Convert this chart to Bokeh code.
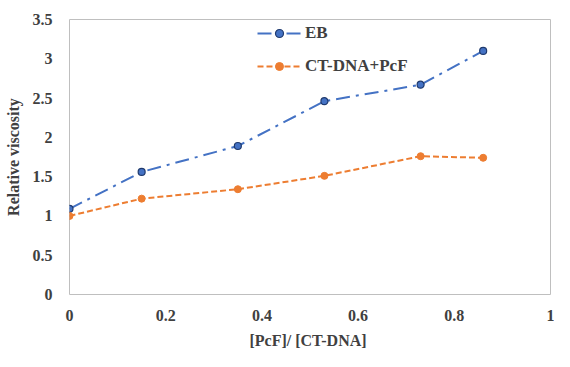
from bokeh.plotting import figure
from bokeh.models import Legend, LegendItem, Range1d, FixedTicker
from bokeh.embed import file_html
from bokeh.resources import INLINE

ratio = [0.0, 0.15, 0.35, 0.53, 0.73, 0.86]
eb = [1.09, 1.56, 1.89, 2.46, 2.67, 3.10]
ctdna_pcf = [1.00, 1.22, 1.34, 1.51, 1.76, 1.74]
x_ticks = [0, 0.2, 0.4, 0.6, 0.8, 1]
y_ticks = [0, 0.5, 1, 1.5, 2, 2.5, 3, 3.5]

blue = "#4472C4"
orange = "#ED7D31"
font = "Liberation Serif"
txt = "#404040"

p = figure(width=554, height=351, output_backend="svg", toolbar_location=None,
           x_range=Range1d(0, 1), y_range=Range1d(0, 3.5),
           min_border_left=69, min_border_right=4, min_border_top=19, min_border_bottom=50)
p.xgrid.visible = False
p.ygrid.visible = False
p.outline_line_color = "#bfbfbf"
p.outline_line_width = 1

for ax in (p.xaxis[0], p.yaxis[0]):
    ax.axis_line_color = None
    ax.major_tick_line_color = None
    ax.minor_tick_line_color = None
    ax.major_tick_out = 0
    ax.major_tick_in = 0
    ax.minor_tick_out = 0
    ax.major_label_text_font = font
    ax.major_label_text_font_style = "bold"
    ax.major_label_text_font_size = "16px"
    ax.major_label_text_color = txt
    ax.axis_label_text_font = font
    ax.axis_label_text_font_style = "bold"
    ax.axis_label_text_font_size = "16px"
    ax.axis_label_text_color = txt

p.xaxis.ticker = FixedTicker(ticks=x_ticks)
p.yaxis.ticker = FixedTicker(ticks=y_ticks)
p.xaxis.major_label_standoff = 15
p.yaxis.major_label_standoff = 17
p.xaxis.axis_label = "[PcF]/  [CT-DNA]"
p.yaxis.axis_label = "Relative viscosity"
p.xaxis.axis_label_standoff = 8
p.yaxis.axis_label_standoff = 8

l1 = p.line(ratio, eb, line_color=blue, line_width=2, line_dash="14 6 3 6")
m1 = p.scatter(ratio, eb, marker="circle", size=7, fill_color=blue, line_color="#1f3a6e", line_width=1.2)
l2 = p.line(ratio, ctdna_pcf, line_color=orange, line_width=2, line_dash="6 3")
m2 = p.scatter(ratio, ctdna_pcf, marker="circle", size=7, fill_color=orange, line_color=orange)

legend = Legend(items=[LegendItem(label="EB", renderers=[l1, m1]),
                       LegendItem(label="CT-DNA+PcF", renderers=[l2, m2])],
                location=(188, 218), orientation="vertical",
                border_line_color=None, background_fill_alpha=0,
                label_text_font=font, label_text_font_size="17px", label_text_color=txt,
                label_text_font_style="bold",
                glyph_width=44, label_height=20, glyph_height=20, spacing=13,
                padding=0, margin=0, label_standoff=4)
p.add_layout(legend, "center")

open("out.html", "w").write(file_html(p, INLINE))
